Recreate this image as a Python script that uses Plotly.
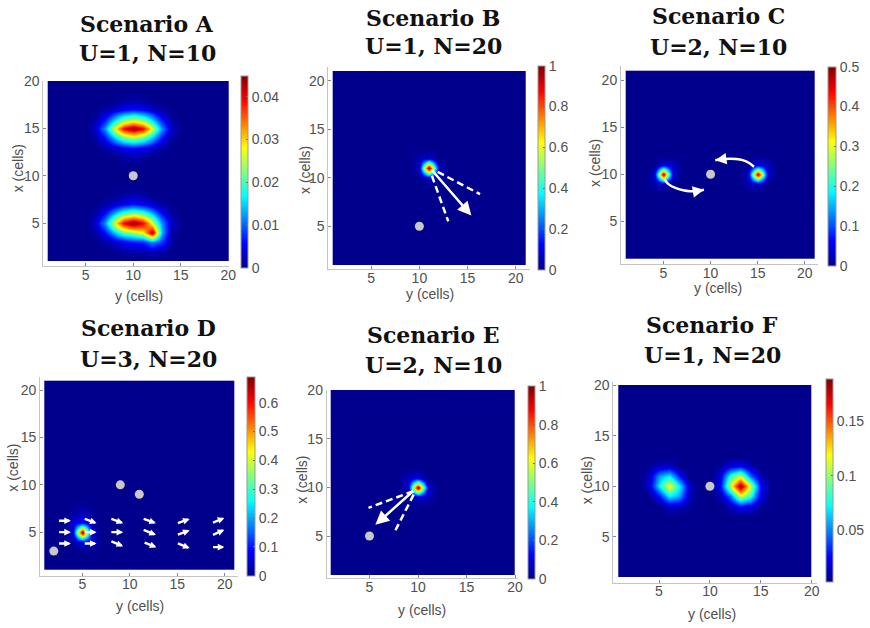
import plotly.graph_objects as go

W, H = 870, 628

# ------------------------------------------------------------------ data
PANELS = ["A", "B", "C", "D", "E", "F"]
GRID = {"A": 20, "B": 21, "C": 21, "D": 21, "E": 20, "F": 20}
TITLE_1 = {"A": "Scenario A", "B": "Scenario B", "C": "Scenario C",
           "D": "Scenario D", "E": "Scenario E", "F": "Scenario F"}
TITLE_2 = {"A": "U=1, N=10", "B": "U=1, N=20", "C": "U=2, N=10",
           "D": "U=3, N=20", "E": "U=2, N=10", "F": "U=1, N=20"}
AXIS_TICKS = [5, 10, 15, 20]
X_LABEL = "y (cells)"
Y_LABEL = "x (cells)"

# colour limits and colourbar ticks
Z_MIN = {"A": 0, "B": 0, "C": 0, "D": 0, "E": 0, "F": 0.0015}
Z_MAX = {"A": 0.0449, "B": 1.0, "C": 0.5, "D": 0.69, "E": 1.0, "F": 0.189}
CB_TICKS = {
    "A": [0, 0.01, 0.02, 0.03, 0.04],
    "B": [0, 0.2, 0.4, 0.6, 0.8, 1],
    "C": [0, 0.1, 0.2, 0.3, 0.4, 0.5],
    "D": [0, 0.1, 0.2, 0.3, 0.4, 0.5, 0.6],
    "E": [0, 0.2, 0.4, 0.6, 0.8, 1],
    "F": [0.05, 0.1, 0.15],
}
CB_TEXT = {
    "A": ["0", "0.01", "0.02", "0.03", "0.04"],
    "B": ["0", "0.2", "0.4", "0.6", "0.8", "1"],
    "C": ["0", "0.1", "0.2", "0.3", "0.4", "0.5"],
    "D": ["0", "0.1", "0.2", "0.3", "0.4", "0.5", "0.6"],
    "E": ["0", "0.2", "0.4", "0.6", "0.8", "1"],
    "F": ["0.05", "0.1", "0.15"],
}

# Scenario A : two patches (rows = x-cells upward, columns = y-cells 6..14)
A_PATCH_COLS = [6, 7, 8, 9, 10, 11, 12, 13, 14]
A_UPPER_ROWS = [12, 13, 14, 15, 16, 17, 18]
A_UPPER = [
    [0, 0, 0, 0.001, 0.0015, 0.001, 0, 0, 0],
    [0, 0.001, 0.003, 0.005, 0.0065, 0.005, 0.003, 0.001, 0],
    [0.001, 0.006, 0.014, 0.021, 0.024, 0.021, 0.014, 0.006, 0.001],
    [0.003, 0.012, 0.027, 0.040, 0.0449, 0.040, 0.027, 0.012, 0.003],
    [0.001, 0.006, 0.014, 0.021, 0.024, 0.021, 0.014, 0.006, 0.001],
    [0, 0.001, 0.003, 0.005, 0.0065, 0.005, 0.003, 0.001, 0],
    [0, 0, 0, 0.001, 0.0015, 0.001, 0, 0, 0],
]
A_LOWER_ROWS = [2, 3, 4, 5, 6, 7, 8]
A_LOWER = [
    [0, 0, 0, 0.001, 0.0015, 0.0015, 0.002, 0.001, 0],
    [0, 0.001, 0.003, 0.005, 0.0065, 0.007, 0.012, 0.008, 0.001],
    [0.001, 0.006, 0.014, 0.021, 0.024, 0.028, 0.044, 0.014, 0.001],
    [0.003, 0.012, 0.027, 0.040, 0.0449, 0.040, 0.027, 0.012, 0.003],
    [0.001, 0.006, 0.014, 0.021, 0.024, 0.021, 0.014, 0.006, 0.001],
    [0, 0.001, 0.003, 0.005, 0.0065, 0.005, 0.003, 0.001, 0],
    [0, 0, 0, 0.001, 0.0015, 0.001, 0, 0, 0],
]

# other scenarios: (y-cell, x-cell, value)
B_CELLS = [(11, 11, 1.0), (10, 11, 0.06), (12, 11, 0.05), (11, 12, 0.06),
           (11, 10, 0.05), (10, 12, 0.04), (12, 10, 0.03)]
C_CELLS = [(5, 10, 0.5), (4, 10, 0.03), (6, 10, 0.04), (5, 11, 0.04),
           (5, 9, 0.03), (6, 11, 0.03), (4, 9, 0.02),
           (15, 10, 0.49), (14, 10, 0.03), (16, 10, 0.04), (15, 11, 0.04),
           (15, 9, 0.03), (16, 11, 0.03), (14, 9, 0.02)]
D_CELLS = [(5, 5, 0.69), (5, 6, 0.10), (5, 7, 0.035), (5, 8, 0.01),
           (4, 6, 0.05), (4, 5, 0.06), (6, 5, 0.05), (5, 4, 0.07),
           (6, 4, 0.05), (4, 4, 0.02), (6, 6, 0.02), (4, 7, 0.015), (6, 7, 0.01)]
E_CELLS = [(10, 10, 1.0), (9, 10, 0.08), (11, 10, 0.08), (10, 11, 0.10),
           (10, 9, 0.06), (9, 11, 0.06), (11, 9, 0.05)]
F_CELLS = [
    # left blob
    (6, 10, 0.12), (5, 10, 0.07), (7, 10, 0.07), (6, 11, 0.07), (6, 9, 0.07),
    (5, 11, 0.055), (7, 9, 0.055), (7, 11, 0.028), (5, 9, 0.028),
    (4, 10, 0.014), (8, 10, 0.014), (6, 12, 0.014), (6, 8, 0.014),
    (4, 11, 0.011), (5, 12, 0.011), (7, 8, 0.011), (8, 9, 0.011),
    (4, 12, 0.004), (8, 8, 0.004),
    # right blob
    (13, 10, 0.187), (12, 10, 0.11), (14, 10, 0.11), (13, 11, 0.11), (13, 9, 0.11),
    (12, 11, 0.08), (14, 9, 0.08), (14, 11, 0.045), (12, 9, 0.045),
    (11, 10, 0.024), (15, 10, 0.024), (13, 12, 0.024), (13, 8, 0.024),
    (11, 11, 0.018), (12, 12, 0.018), (14, 8, 0.018), (15, 9, 0.018),
    (11, 9, 0.009), (15, 11, 0.009), (12, 8, 0.009), (14, 12, 0.009),
    (11, 12, 0.005), (15, 8, 0.005),
]

# grey dots (y-cell, x-cell)
DOTS = {"A": [(10, 10)], "B": [(10, 5)], "C": [(10, 10)],
        "D": [(2, 3), (9, 10), (11, 9)], "E": [(5, 5)], "F": [(10, 10)]}

# arrows (tail y, tail x, head y, head x)
B_SOLID = [(11.2, 10.9, 15.4, 6.1)]
B_DASHED = [(11.9, 10.6, 16.3, 8.3), (11.3, 10.2, 13.0, 5.5)]
E_SOLID = [(9.66, 9.76, 5.6, 6.15)]
E_DASHED = [(9.5, 9.6, 4.9, 7.9), (9.55, 9.25, 7.6, 5.45)]
C_ARC1_Y = [5.1, 5.6, 6.4, 7.1, 7.8, 8.6, 9.3]
C_ARC1_X = [9.45, 8.9, 8.5, 8.3, 8.2, 8.22, 8.35]
C_ARC2_Y = [14.6, 14.1, 13.4, 12.7, 12.0, 11.2, 10.5]
C_ARC2_X = [10.8, 11.2, 11.5, 11.62, 11.65, 11.6, 11.5]
D_QUIVER = [
    (2.4, 6.2, 3.8, 6.2), (2.4, 5.0, 3.8, 5.0), (2.4, 3.8, 3.8, 3.8),
    (5.1, 6.45, 6.5, 5.95), (5.1, 5.0, 6.5, 5.0), (5.1, 3.8, 6.5, 3.8),
    (7.9, 6.45, 9.3, 5.95), (7.9, 5.0, 9.3, 5.0), (7.9, 4.1, 9.3, 3.5),
    (11.3, 6.45, 12.75, 5.95), (11.3, 5.3, 12.75, 4.7), (11.4, 3.95, 12.8, 3.4),
    (14.9, 5.9, 16.3, 6.4), (14.9, 4.68, 16.3, 5.2), (14.9, 3.88, 16.3, 3.3),
    (18.6, 5.95, 19.95, 6.5), (18.6, 4.65, 19.95, 5.25), (18.6, 3.42, 19.95, 3.42),
]

# ------------------------------------------------------------------ layout geometry (pixels)
HM_BOX = {"A": (47.7, 228.3, 81.0, 261.0), "B": (332.7, 525.3, 71.0, 265.0),
          "C": (625.7, 814.3, 70.7, 259.0), "D": (44.3, 234.3, 380.7, 570.0),
          "E": (330.7, 515.0, 390.0, 575.0), "F": (618.3, 811.7, 385.0, 577.3)}
XR = {"A": (0.54, 20.1), "B": (0.54, 21.5), "C": (0.5, 21.4),
      "D": (0.55, 21.4), "E": (0.59, 20.3), "F": (0.51, 20.48)}
YR = {"A": (0.45, 20.02), "B": (0.6, 21.45), "C": (0.44, 21.5),
      "D": (0.4, 21.42), "E": (0.66, 20.02), "F": (0.47, 20.33)}
CB_BOX = {"A": (241.0, 248.3, 75.7, 267.3), "B": (538.3, 545.7, 65.7, 270.0),
          "C": (828.0, 836.0, 66.7, 265.7), "D": (247.3, 255.0, 376.7, 575.7),
          "E": (528.3, 535.0, 386.0, 579.3), "F": (825.7, 832.3, 379.3, 582.7)}
TITLE_POS = {"A": (147, 22.7, 51.7), "B": (433, 16.7, 45), "C": (718, 15, 45.8),
             "D": (148, 326.7, 358.3), "E": (433, 334, 364), "F": (712, 324, 354)}
XLAB_POS = {"A": (139, 296), "B": (430, 294), "C": (718, 288),
            "D": (140, 606), "E": (421.7, 610), "F": (711.7, 614)}
YLAB_POS = {"A": (18.3, 168), "B": (305, 170), "C": (595, 163),
            "D": (12.7, 468), "E": (301.7, 480), "F": (587.3, 480)}

JET = [[0.0, "rgb(0,0,140)"], [0.125, "rgb(0,0,255)"], [0.375, "rgb(0,255,255)"],
       [0.625, "rgb(255,255,0)"], [0.875, "rgb(255,0,0)"], [1.0, "rgb(128,0,0)"]]

TICK_FONT = dict(family="Liberation Sans, Arial, sans-serif", size=14, color="#505050")
TITLE_FONT = dict(family="DejaVu Serif, serif", size=22, color="#111111")


def px(p):
    return p / W


def py(p):
    return 1 - p / H


def edges(n):
    return [1.0] + [k + 0.5 for k in range(1, n)] + [float(n)]


def build_grid(key):
    n = GRID[key]
    z = [[0.0] * n for _ in range(n)]
    if key == "A":
        for rows, patch in ((A_UPPER_ROWS, A_UPPER), (A_LOWER_ROWS, A_LOWER)):
            for r, row in zip(rows, patch):
                for c, v in zip(A_PATCH_COLS, row):
                    z[r - 1][c - 1] = v
    else:
        cells = {"B": B_CELLS, "C": C_CELLS, "D": D_CELLS, "E": E_CELLS, "F": F_CELLS}[key]
        for c, r, v in cells:
            z[r - 1][c - 1] = v
    return z


fig = go.Figure()
annotations = []
shapes = []

for i, key in enumerate(PANELS):
    idx = i + 1
    sfx = "" if idx == 1 else str(idx)
    xname, yname = "x" + sfx, "y" + sfx
    n = GRID[key]
    l, r, t, b = HM_BOX[key]
    ppx = (r - l) / (n - 1)
    ppy = (b - t) / (n - 1)
    dom_l = l - (1 - XR[key][0]) * ppx
    dom_r = r + (XR[key][1] - n) * ppx
    dom_b = b + (1 - YR[key][0]) * ppy
    dom_t = t - (YR[key][1] - n) * ppy

    cx0, cx1, cy0, cy1 = CB_BOX[key]
    fig.add_trace(go.Heatmap(
        z=build_grid(key), x=edges(n), y=edges(n), xaxis=xname, yaxis=yname,
        zsmooth="best", colorscale=JET, zmin=Z_MIN[key], zmax=Z_MAX[key],
        hoverinfo="skip",
        colorbar=dict(x=px(cx0), xanchor="left", y=py(cy0), yanchor="top",
                      len=cy1 - cy0, lenmode="pixels", thickness=cx1 - cx0,
                      thicknessmode="pixels", xpad=0, ypad=0, outlinewidth=1,
                      outlinecolor="#9a9a9a", tickvals=CB_TICKS[key],
                      ticktext=CB_TEXT[key], ticks="inside", ticklen=2,
                      tickcolor="#666", tickfont=TICK_FONT),
    ))

    dots = DOTS[key]
    fig.add_trace(go.Scatter(
        x=[d[0] for d in dots], y=[d[1] for d in dots], mode="markers",
        xaxis=xname, yaxis=yname, hoverinfo="skip",
        marker=dict(size=9, color="#c8c8c8", line=dict(width=0)),
    ))

    axis_common = dict(showline=True, linecolor="#c4c4c4", linewidth=1, ticks="inside",
                       ticklen=3, tickcolor="#888", tickvals=AXIS_TICKS,
                       tickfont=TICK_FONT, showgrid=False, zeroline=False,
                       mirror=False, fixedrange=True)
    fig.layout["xaxis" + sfx] = dict(axis_common, domain=[px(dom_l), px(dom_r)],
                                     range=list(XR[key]), anchor=yname,
                                     ticklabelstandoff=-4)
    fig.layout["yaxis" + sfx] = dict(axis_common, domain=[py(dom_b), py(dom_t)],
                                     range=list(YR[key]), anchor=xname)

    tx, t1, t2 = TITLE_POS[key]
    annotations.append(dict(text="<b>" + TITLE_1[key] + "</b>", x=px(tx), y=py(t1 + 1),
                            xref="paper", yref="paper", showarrow=False,
                            xanchor="center", yanchor="middle", font=TITLE_FONT))
    annotations.append(dict(text="<b>" + TITLE_2[key] + "</b>", x=px(tx), y=py(t2 + 1),
                            xref="paper", yref="paper", showarrow=False,
                            xanchor="center", yanchor="middle", font=TITLE_FONT))
    lx, ly = XLAB_POS[key]
    annotations.append(dict(text=X_LABEL, x=px(lx), y=py(ly), xref="paper", yref="paper",
                            showarrow=False, xanchor="center", yanchor="middle",
                            font=TICK_FONT))
    lx, ly = YLAB_POS[key]
    annotations.append(dict(text=Y_LABEL, x=px(lx), y=py(ly), xref="paper", yref="paper",
                            showarrow=False, xanchor="center", yanchor="middle",
                            textangle=-90, font=TICK_FONT))


def arrow(axn, x0, y0, x1, y1, size, width):
    sfx = "" if axn == 1 else str(axn)
    return dict(x=x1, y=y1, ax=x0, ay=y0, xref="x" + sfx, yref="y" + sfx,
                axref="x" + sfx, ayref="y" + sfx, text="", showarrow=True,
                arrowhead=2, arrowsize=size, arrowwidth=width, arrowcolor="white",
                standoff=0, startstandoff=0)


def dashed(axn, x0, y0, x1, y1):
    sfx = "" if axn == 1 else str(axn)
    return dict(type="line", xref="x" + sfx, yref="y" + sfx, x0=x0, y0=y0, x1=x1, y1=y1,
                line=dict(color="white", width=2.5, dash="7px,4px"))


for a in B_SOLID:
    annotations.append(arrow(2, *a, size=1.1, width=2.5))
for a in B_DASHED:
    shapes.append(dashed(2, *a))
for a in E_SOLID:
    annotations.append(arrow(5, *a, size=1.1, width=2.5))
for a in E_DASHED:
    shapes.append(dashed(5, *a))
for a in D_QUIVER:
    annotations.append(arrow(4, *a, size=0.55, width=2.4))

for ys, xs in ((C_ARC1_Y, C_ARC1_X), (C_ARC2_Y, C_ARC2_X)):
    fig.add_trace(go.Scatter(x=ys, y=xs, mode="lines", xaxis="x3", yaxis="y3",
                             hoverinfo="skip", line=dict(color="white", width=2.5,
                                                         shape="spline")))
    annotations.append(arrow(3, ys[-2], xs[-2], ys[-1], xs[-1], size=0.9, width=2.5))

fig.update_layout(
    width=W, height=H, margin=dict(l=0, r=0, t=0, b=0, autoexpand=False),
    paper_bgcolor="white", plot_bgcolor="white", showlegend=False,
    annotations=annotations, shapes=shapes,
)

fig.write_html("out.html", config={"displayModeBar": False},
               post_script="document.body.style.margin='0';"
                           "document.body.style.overflow='hidden';")
